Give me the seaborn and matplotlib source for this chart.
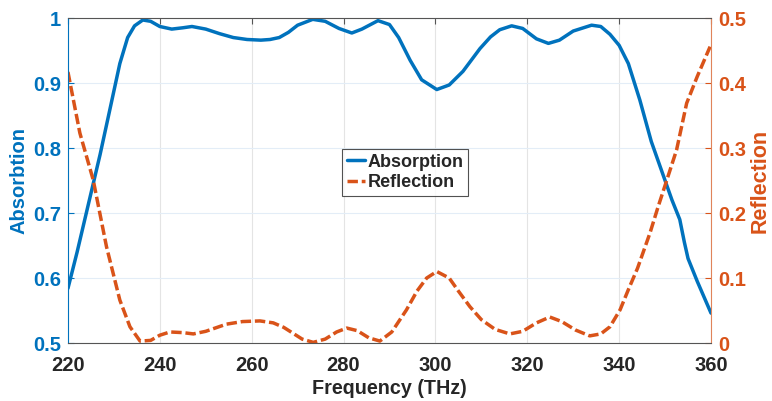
import numpy as np
import pandas as pd
import matplotlib
matplotlib.use("Agg")
import matplotlib.pyplot as plt
import seaborn as sns

freq_abs = [220, 222, 224, 225.5, 227, 229, 231.3, 233, 234.5, 236.3, 238, 240, 242.6, 245,
            247, 250, 253, 256, 259, 262, 264, 266, 268, 270, 273.3, 276, 279, 281.8, 284,
            287.5, 290, 292, 294.5, 297, 300.3, 303, 306, 309.7, 312, 314, 316.6, 319, 322,
            324.6, 327, 330, 334, 336, 338, 340, 342, 344.5, 347, 349.5, 351.5, 353.2, 354.2,
            355, 357, 360]
absorption = [0.584, 0.64, 0.70, 0.745, 0.79, 0.855, 0.93, 0.97, 0.988, 0.997, 0.995, 0.987,
              0.983, 0.985, 0.987, 0.983, 0.976, 0.970, 0.967, 0.966, 0.967, 0.970, 0.978,
              0.989, 0.998, 0.995, 0.984, 0.977, 0.983, 0.996, 0.99, 0.97, 0.935, 0.905, 0.890,
              0.897, 0.918, 0.953, 0.971, 0.982, 0.988, 0.984, 0.968, 0.961, 0.966, 0.980,
              0.989, 0.987, 0.975, 0.958, 0.93, 0.874, 0.81, 0.76, 0.72, 0.69, 0.655, 0.63,
              0.595, 0.546]

freq_ref = [220, 222.6, 225.5, 228.4, 231.3, 233.5, 235.7, 238, 240, 242.2, 245, 247.3, 250,
            254.5, 258, 261.8, 264.7, 267, 269, 271, 273.4, 276, 278.5, 280.7, 283, 285.5,
            287.9, 290.5, 293.7, 296, 298.1, 300.3, 303, 305, 307.5, 310, 313, 316.2, 319, 322,
            324.9, 327.5, 330.5, 333.6, 336, 338, 340.2, 342, 344, 346.7, 348.5, 350.3, 352.5,
            354.7, 357, 359.8]
reflection = [0.417, 0.323, 0.251, 0.148, 0.066, 0.025, 0.003, 0.004, 0.012, 0.017, 0.016,
              0.014, 0.018, 0.029, 0.033, 0.034, 0.031, 0.024, 0.015, 0.006, 0.001, 0.006,
              0.017, 0.023, 0.019, 0.008, 0.003, 0.017, 0.051, 0.08, 0.100, 0.110, 0.100,
              0.08, 0.056, 0.036, 0.021, 0.014, 0.018, 0.031, 0.040, 0.033, 0.02, 0.011, 0.014,
              0.025, 0.051, 0.082, 0.115, 0.169, 0.21, 0.249, 0.297, 0.369, 0.41, 0.456]

x_ticks = [220, 240, 260, 280, 300, 320, 340, 360]
yl_ticks = [0.5, 0.6, 0.7, 0.8, 0.9, 1.0]
yl_labels = ["0.5", "0.6", "0.7", "0.8", "0.9", "1"]
yr_ticks = [0, 0.1, 0.2, 0.3, 0.4, 0.5]
yr_labels = ["0", "0.1", "0.2", "0.3", "0.4", "0.5"]

BLUE = "#0072BD"
ORANGE = "#D95319"
DARK = "#262626"

sns.set_style("white")
plt.rcParams['font.family'] = ['Liberation Sans', 'DejaVu Sans']
plt.rcParams['font.weight'] = 'bold'

df_a = pd.DataFrame({"f": freq_abs, "v": absorption})
df_r = pd.DataFrame({"f": freq_ref, "v": reflection})

fig = plt.figure(figsize=(7.72, 4.01), dpi=100)
ax = fig.add_axes([0.088, 0.1446, 0.833, 0.8104])
ax2 = ax.twinx()

sns.lineplot(data=df_a, x="f", y="v", ax=ax, color=BLUE, linewidth=2.5, label="Absorption", legend=False)
sns.lineplot(data=df_r, x="f", y="v", ax=ax2, color=ORANGE, linewidth=2.5, label="Reflection", legend=False)
for ln in ax.lines + ax2.lines:
    ln.set_solid_joinstyle("round")
    ln.set_dash_joinstyle("round")
ax2.lines[0].set_dashes([3.0, 1.1])

ax.set_xlim(220, 360)
ax.set_ylim(0.5, 1.0)
ax2.set_ylim(0, 0.5)
ax.set_xticks(x_ticks)
ax.set_xticklabels([str(t) for t in x_ticks], fontsize=14.5, fontweight='bold', color=DARK)
ax.set_yticks(yl_ticks)
ax.set_yticklabels(yl_labels, fontsize=14.5, fontweight='bold', color=BLUE)
ax2.set_yticks(yr_ticks)
ax2.set_yticklabels(yr_labels, fontsize=14.5, fontweight='bold', color=ORANGE)

ax.xaxis.grid(True, color="#e4e4e4", linewidth=0.8)
ax.yaxis.grid(True, color="#e3edf7", linewidth=0.8)
ax.set_axisbelow(True)

ax.set_xlabel("Frequency (THz)", fontsize=14.2, fontweight='bold', color=DARK, labelpad=3)
ax.set_ylabel("Absorbtion", fontsize=14.5, fontweight='bold', color=BLUE, labelpad=3)
ax2.set_ylabel("Reflection", fontsize=15.5, fontweight='bold', color=ORANGE, labelpad=3)

ax.tick_params(axis='x', direction='in', length=4, color="#555555", pad=9, top=True)
ax.tick_params(axis='y', direction='in', length=4, color=BLUE, pad=5)
ax2.tick_params(axis='y', direction='in', length=4, color=ORANGE, pad=5)

for s in ["top", "bottom"]:
    ax2.spines[s].set_color("#555555")
    ax2.spines[s].set_linewidth(0.8)
ax2.spines["left"].set_color(BLUE)
ax2.spines["right"].set_color("#E0845A")
for s in ax.spines.values():
    s.set_visible(False)

h1, l1 = ax.get_legend_handles_labels()
h2, l2 = ax2.get_legend_handles_labels()
leg = ax2.legend(h1 + h2, l1 + l2, loc="center", bbox_to_anchor=(0.524, 0.525),
                 fontsize=13, frameon=True, fancybox=False, handlelength=1.0,
                 handletextpad=0.15, borderpad=0.25, labelspacing=0.2, borderaxespad=0)
leg.get_frame().set_edgecolor(DARK)
leg.get_frame().set_linewidth(0.8)
for t in leg.get_texts():
    t.set_fontweight('bold')

fig.savefig("out.png", dpi=100)
